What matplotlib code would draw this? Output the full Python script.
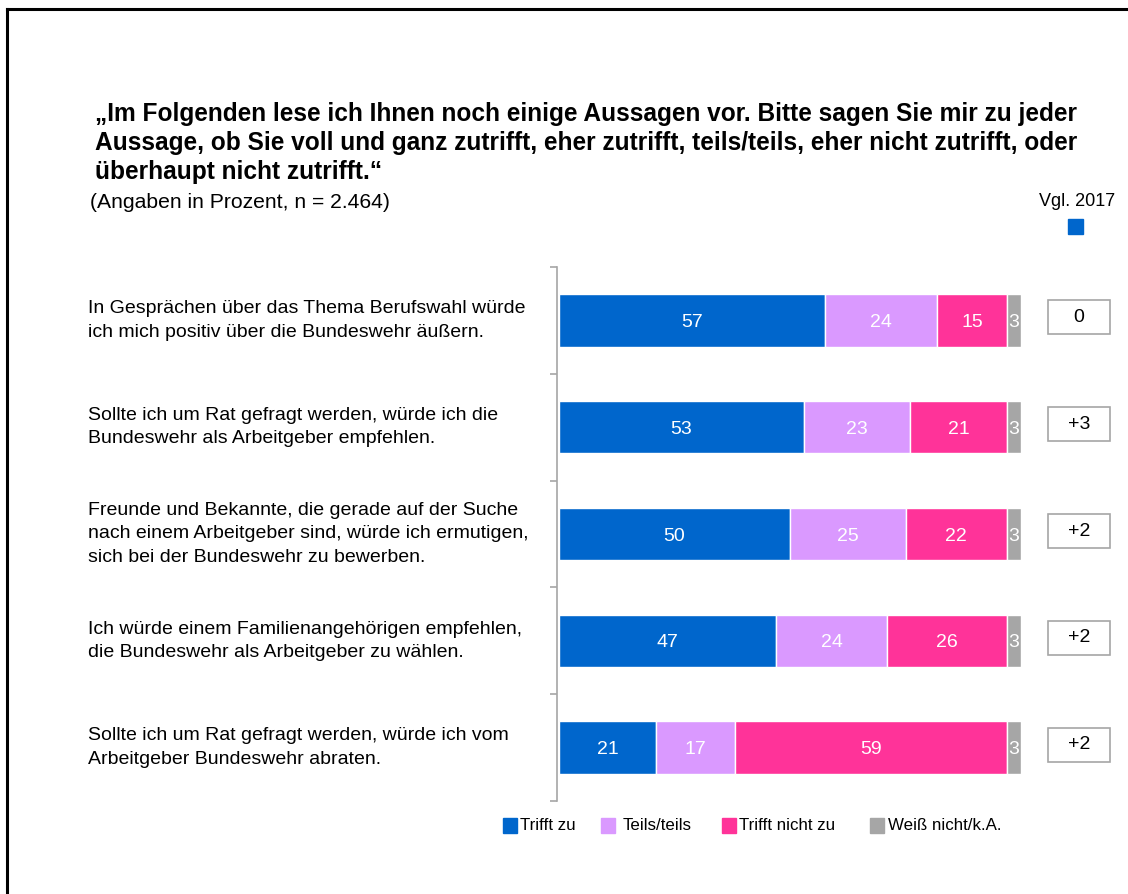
import matplotlib
matplotlib.use("Agg")
import matplotlib.pyplot as plt
from matplotlib.patches import Rectangle
from matplotlib.lines import Line2D

plt.rcParams['font.family'] = ['Liberation Sans', 'DejaVu Sans']

categories = [
    "In Gesprächen über das Thema Berufswahl würde\nich mich positiv über die Bundeswehr äußern.",
    "Sollte ich um Rat gefragt werden, würde ich die\nBundeswehr als Arbeitgeber empfehlen.",
    "Freunde und Bekannte, die gerade auf der Suche\nnach einem Arbeitgeber sind, würde ich ermutigen,\nsich bei der Bundeswehr zu bewerben.",
    "Ich würde einem Familienangehörigen empfehlen,\ndie Bundeswehr als Arbeitgeber zu wählen.",
    "Sollte ich um Rat gefragt werden, würde ich vom\nArbeitgeber Bundeswehr abraten.",
]
series_names = ["Trifft zu", "Teils/teils", "Trifft nicht zu", "Weiß nicht/k.A."]
trifft_zu = [57, 53, 50, 47, 21]
teils = [24, 23, 25, 24, 17]
trifft_nicht = [15, 21, 22, 26, 59]
weiss_nicht = [3, 3, 3, 3, 3]
vgl_2017 = ["0", "+3", "+2", "+2", "+2"]

colors = ["#0066CC", "#DA99FF", "#FF3399", "#A6A6A6"]

W, H = 1128, 894
fig = plt.figure(figsize=(W / 100, H / 100), dpi=100)

def fx(px):
    return px / W

def fy(py):
    return 1 - py / H

# frame
fig.add_artist(Line2D([fx(7), fx(7)], [fy(9), 0], color="black", lw=2.2))
fig.add_artist(Line2D([fx(7), 1], [fy(9), fy(9)], color="black", lw=2.2))

# title
title_lines = [
    "\u201eIm Folgenden lese ich Ihnen noch einige Aussagen vor. Bitte sagen Sie mir zu jeder",
    "Aussage, ob Sie voll und ganz zutrifft, eher zutrifft, teils/teils, eher nicht zutrifft, oder",
    "überhaupt nicht zutrifft.\u201c",
]
for i, t in enumerate(title_lines):
    fig.text(fx(95), fy(114 + 29 * i), t, fontsize=17.65, fontweight="bold",
             va="center", ha="left", color="black")
fig.text(fx(90), fy(202), "(Angaben in Prozent, n = 2.464)", fontsize=15.2,
         va="center", ha="left")

# axes (100% stacked bars)
ppu = 462 / 100.0
ax_left, ax_top, ax_bottom = 557, 267, 801
x0 = -2 / ppu
ax_w = (100 - x0) * ppu
ax = fig.add_axes([fx(ax_left), fy(ax_bottom), ax_w / W, (ax_bottom - ax_top) / H])
ax.set_xlim(x0, 100)
n = len(categories)
ax.set_ylim(n - 0.5, -0.5)

series = [trifft_zu, teils, trifft_nicht, weiss_nicht]
totals = [sum(vals) for vals in zip(*series)]
ypos = list(range(n))
left = [0.0] * n
for s, vals in enumerate(series):
    widths = [v / t * 100 for v, t in zip(vals, totals)]
    ax.barh(ypos, widths, left=left, height=0.49, color=colors[s],
            edgecolor="white", linewidth=1.0)
    for i, (v, w) in enumerate(zip(vals, widths)):
        ax.text(left[i] + w / 2, i + 0.02, str(v), color="white", fontsize=14,
                ha="center", va="center")
    left = [l + w for l, w in zip(left, widths)]

for sp in ["top", "right", "bottom"]:
    ax.spines[sp].set_visible(False)
ax.spines["left"].set_color("#A6A6A6")
ax.spines["left"].set_linewidth(1.2)
ax.set_xticks([])
ax.set_yticks([i - 0.5 for i in range(n + 1)])
ax.set_yticklabels([])
ax.tick_params(axis="y", length=5, color="#A6A6A6", width=1.2, direction="out")

# category labels
for i, c in enumerate(categories):
    py = ax_top + (i + 0.5) * (ax_bottom - ax_top) / n
    fig.text(fx(88), fy(py), c, fontsize=14, ha="left", va="center",
             linespacing=1.5)

# comparison boxes
fig.text(fx(1077), fy(202), "Vgl. 2017", fontsize=13, ha="center", va="center")
fig.add_artist(Rectangle((fx(1068), fy(234)), 15 / W, 15 / H, color=colors[0],
                         transform=fig.transFigure))
for i, v in enumerate(vgl_2017):
    cy = ax_top + (i + 0.5) * (ax_bottom - ax_top) / n - 3
    fig.add_artist(Rectangle((fx(1048), fy(cy + 17)), 62 / W, 34 / H,
                             facecolor="white", edgecolor="#A6A6A6", lw=1.2,
                             transform=fig.transFigure))
    fig.text(fx(1079), fy(cy), v, fontsize=14, ha="center", va="center")

# legend
leg_items = [(503, 520), (601, 623), (722, 739), (870, 888)]
for (sx, tx), name, col in zip(leg_items, series_names, colors):
    fig.add_artist(Rectangle((fx(sx), fy(833)), 14 / W, 15 / H, color=col,
                             transform=fig.transFigure))
    fig.text(fx(tx), fy(825), name, fontsize=12.2, ha="left", va="center")

fig.savefig("out.png", dpi=100)
